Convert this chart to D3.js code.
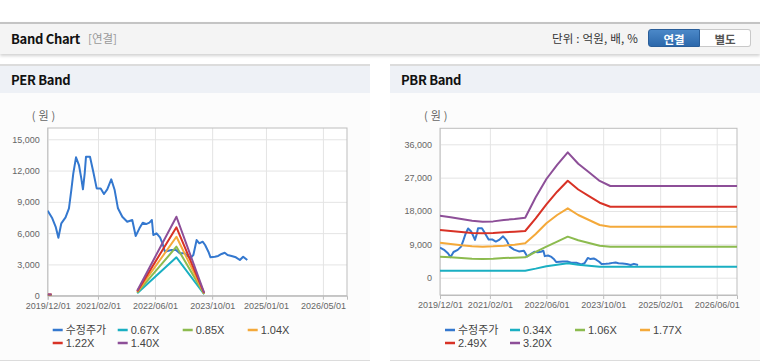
<!DOCTYPE html>
<html><head><meta charset="utf-8">
<script src="https://cdn.jsdelivr.net/npm/d3@7/dist/d3.min.js"></script>
<style>
html,body{margin:0;padding:0;background:#fff;width:760px;height:364px;overflow:hidden;font-family:"Noto Sans CJK KR","Noto Sans",sans-serif;}
.hdr{position:absolute;left:0;top:22px;width:760px;height:30px;background:#f4f4f4;border-top:2px solid #c4c4c4;box-shadow:0 2px 3px rgba(0,0,0,0.18);}
.hdr .t{position:absolute;left:11px;top:5px;font-size:13px;font-weight:bold;color:#111;letter-spacing:-0.3px;}
.hdr .s{position:absolute;left:88px;top:6px;font-size:11.5px;color:#999;}
.hdr .u{position:absolute;left:552px;top:6px;font-size:11.5px;color:#333;letter-spacing:0.2px;}
.btn{position:absolute;top:5px;height:18px;font-size:11.5px;font-weight:bold;text-align:center;line-height:18px;box-sizing:border-box;}
.b1{left:648px;width:52px;background:linear-gradient(#4b88c8,#2c68ab);color:#fff;border:1px solid #2a5e99;border-radius:3px 0 0 3px;}
.b2{left:700px;width:51px;background:#fff;color:#555;border:1px solid #c9c9c9;border-left:none;border-radius:0 3px 3px 0;}
.panel{position:absolute;top:64px;height:297px;background:#fcfcfc;border-top:2px solid #dcdcdc;border-bottom:1px solid #dcdcdc;box-sizing:border-box;}
.panel .tt{height:27px;background:#eef1f6;font-size:13px;font-weight:bold;color:#111;padding-left:11px;line-height:27px;letter-spacing:-0.3px;}
svg{position:absolute;left:0;top:0;}
</style></head><body>
<div class="hdr"><span class="t">Band Chart</span><span class="s">[연결]</span><span class="u">단위 : 억원, 배, %</span>
<div class="btn b1">연결</div><div class="btn b2">별도</div></div>
<div class="panel" style="left:0;width:370px;"><div class="tt">PER Band</div></div>
<div class="panel" style="left:390px;width:370px;"><div class="tt">PBR Band</div></div>
<svg id="chart" width="760" height="364"></svg>
<script>
// ---- data ----
const priceDates = ["2019-12-01","2020-01-09","2020-02-07","2020-03-01","2020-03-26","2020-05-01","2020-05-30","2020-06-19","2020-07-06","2020-07-29","2020-08-23","2020-09-12","2020-09-26","2020-10-11","2020-10-22","2020-11-25","2020-12-23","2021-01-21","2021-02-24","2021-03-24","2021-04-21","2021-05-25","2021-06-23","2021-07-21","2021-08-27","2021-10-08","2021-11-20","2021-12-19","2022-01-20","2022-02-17","2022-03-18","2022-04-15","2022-05-06","2022-05-18","2022-06-15","2022-07-14","2022-08-06","2022-08-25","2022-09-23","2022-10-20","2022-11-27","2022-12-31","2023-02-12","2023-03-27","2023-04-24","2023-05-22","2023-06-14","2023-07-12","2023-08-02","2023-08-30","2023-09-17","2023-10-24","2023-11-21","2023-12-20","2024-01-16","2024-02-09","2024-03-14","2024-04-20","2024-05-24","2024-06-21","2024-07-26"];
const priceValues = [8150,7420,6610,5560,6940,7510,8380,10130,11730,13270,12530,11250,10200,11730,13320,13320,11890,10290,10290,9750,10200,11160,10130,8380,7570,7090,7260,5720,6460,7000,6870,7000,7260,5820,5980,5600,4960,4220,4310,4380,4380,4060,4060,3590,3900,5340,5020,5180,4860,4220,3680,3740,3810,4000,4120,3900,3810,3680,3420,3740,3420];

const perBandDates = ["2019-12-01","2020-01-03","2021-06-01","2022-01-01","2022-12-01","2023-07-25"];
const per067 = [60, 60, null, 230, 3680, 140];
const per085 = [75, 75, null, 290, 4700, 175];
const per104 = [90, 90, null, 355, 5650, 210];
const per122 = [105, 105, null, 415, 6560, 245];
const per140 = [120, 120, null, 480, 7570, 280];
const perLabels = ["수정주가","0.67X","0.85X","1.04X","1.22X","1.40X"];

const pbrBandDates = ["2019-12-01","2020-03-01","2020-06-01","2020-09-01","2020-12-01","2021-03-01","2021-06-01","2021-09-01","2021-12-01","2022-03-01","2022-06-01","2022-09-01","2022-12-01","2023-03-01","2023-06-01","2023-09-01","2023-12-01","2026-11-22"];
const pbr034 = [1890,1890,1890,1890,1890,1890,1890,1890,1890,2450,3100,3500,3900,3510,3240,2970,2970,2970];
const pbr106 = [5670,5490,5310,5130,5040,5130,5310,5400,5490,6940,8370,9720,11070,10090,9370,8640,8370,8370];
const pbr177 = [9450,9090,8730,8460,8370,8460,8640,8910,9270,11790,14680,16920,18730,16920,15570,14220,13770,13770];
const pbr249 = [12870,12600,12330,12060,11980,12060,12240,12420,12600,16030,19810,23210,26180,23800,22020,20240,19160,19160];
const pbr320 = [16730,16300,15850,15390,15110,15200,15570,15840,16190,21700,26640,30420,33840,30740,28440,26120,24750,24750];
const pbrLabels = ["수정주가","0.34X","1.06X","1.77X","2.49X","3.20X"];

const perYTicks = [0,3000,6000,9000,12000,15000];
const pbrYTicks = [0,9000,18000,27000,36000];
const perXTicks = ["2019-12-01","2021-02-01","2022-06-01","2023-10-01","2025-01-01","2026-05-01"];
const pbrXTicks = ["2019-12-01","2021-02-01","2022-06-01","2023-10-01","2025-02-01","2026-06-01"];
const xDomain = ["2019-12-01","2026-11-22"];
const colors = ["#3478cf","#1aafc2","#8cbb4f","#f4a93a","#d83226","#8d4f98"];

// ---- drawing ----
const parse = d3.timeParse("%Y-%m-%d");
const fmt = d3.timeFormat("%Y/%m/%d");
const svg = d3.select("#chart");

function drawChart(cfg){
  const g = svg.append("g");
  const x = d3.scaleTime().domain(xDomain.map(parse)).range([cfg.left, cfg.right]);
  const y = d3.scaleLinear().domain(cfg.yDomain).range([cfg.bottom, cfg.top]);
  g.append("rect").attr("x",cfg.left).attr("y",cfg.top).attr("width",cfg.right-cfg.left).attr("height",cfg.bottom-cfg.top).attr("fill","#fff");
  // grid
  const gy = g.append("g").attr("transform",`translate(${cfg.left},0)`)
    .call(d3.axisLeft(y).tickValues(cfg.yTicks).tickSize(-(cfg.right-cfg.left)).tickFormat(""));
  gy.select(".domain").remove();
  gy.selectAll("line").attr("stroke","#e4e4e4");
  const gx = g.append("g").attr("transform",`translate(0,${cfg.bottom})`)
    .call(d3.axisBottom(x).tickValues(cfg.xTicks.map(parse)).tickSize(-(cfg.bottom-cfg.top)).tickFormat(""));
  gx.select(".domain").remove();
  gx.selectAll("line").attr("stroke","#e4e4e4");
  // frame
  g.append("rect").attr("x",cfg.left).attr("y",cfg.top).attr("width",cfg.right-cfg.left).attr("height",cfg.bottom-cfg.top)
    .attr("fill","none").attr("stroke","#bdbdbd").attr("stroke-width",1);
  // axes labels
  const ay = g.append("g").attr("transform",`translate(${cfg.left},0)`)
    .call(d3.axisLeft(y).tickValues(cfg.yTicks).tickSize(0).tickPadding(8).tickFormat(d3.format(",")));
  ay.select(".domain").remove();
  ay.selectAll("text").attr("fill","#666").style("font-family","'Liberation Sans',Arial,sans-serif").style("font-size","9px");
  const ax = g.append("g").attr("transform",`translate(0,${cfg.bottom})`)
    .call(d3.axisBottom(x).tickValues(cfg.xTicks.map(parse)).tickSize(4).tickPadding(3).tickFormat(fmt));
  ax.select(".domain").attr("stroke","#bdbdbd");
  ax.selectAll("line").attr("stroke","#bdbdbd");
  ax.selectAll("text").attr("fill","#666").style("font-family","'Liberation Sans',Arial,sans-serif").style("font-size","9px");
  g.append("text").attr("x",cfg.left-16).attr("y",cfg.top-8).text("(원)")
    .attr("fill","#666").style("font-size","11px").style("letter-spacing","3px").style("font-family","'Noto Sans CJK KR',sans-serif");
  // clip
  const clipId = "clip"+Math.round(cfg.left);
  g.append("clipPath").attr("id",clipId).append("rect").attr("x",cfg.left).attr("y",cfg.top).attr("width",cfg.right-cfg.left).attr("height",cfg.bottom-cfg.top);
  const lines = g.append("g").attr("clip-path",`url(#${clipId})`);
  const line = d3.line().defined(d=>d[1]!=null).x(d=>x(d[0])).y(d=>y(d[1]));
  const pd = priceDates.map((d,i)=>[parse(d),priceValues[i]]);
  lines.append("path").attr("d",line(pd)).attr("fill","none").attr("stroke",colors[0]).attr("stroke-width",2).attr("stroke-linejoin","round");
  cfg.bands.forEach((vals,k)=>{
    const data = cfg.bandDates.map((d,i)=>[parse(d),vals[i]]);
    lines.append("path").attr("d",line(data)).attr("fill","none").attr("stroke",colors[k+1]).attr("stroke-width",2).attr("stroke-linejoin","round");
  });
  // legend
  const lg = g.append("g");
  cfg.labels.forEach((lab,i)=>{
    const col = i%4, row = Math.floor(i/4);
    const lx = cfg.left + 5 + col*65, ly = 330 + row*13;
    lg.append("line").attr("x1",lx).attr("x2",lx+10).attr("y1",ly).attr("y2",ly).attr("stroke",colors[i]).attr("stroke-width",2.5);
    lg.append("text").attr("x",lx+13).attr("y",ly+4).text(lab).attr("fill","#444")
      .style("font-size","11px").style("font-family","'Liberation Sans','Noto Sans CJK KR',sans-serif");
  });
}

drawChart({left:47.7,right:347,top:128,bottom:295.7,yDomain:[0,16080],yTicks:perYTicks,xTicks:perXTicks,
  bandDates:perBandDates,bands:[per067,per085,per104,per122,per140],labels:perLabels});
drawChart({left:440,right:737,top:128.3,bottom:295,yDomain:[-4670,40320],yTicks:pbrYTicks,xTicks:pbrXTicks,
  bandDates:pbrBandDates,bands:[pbr034,pbr106,pbr177,pbr249,pbr320],labels:pbrLabels});
</script>
</body></html>
